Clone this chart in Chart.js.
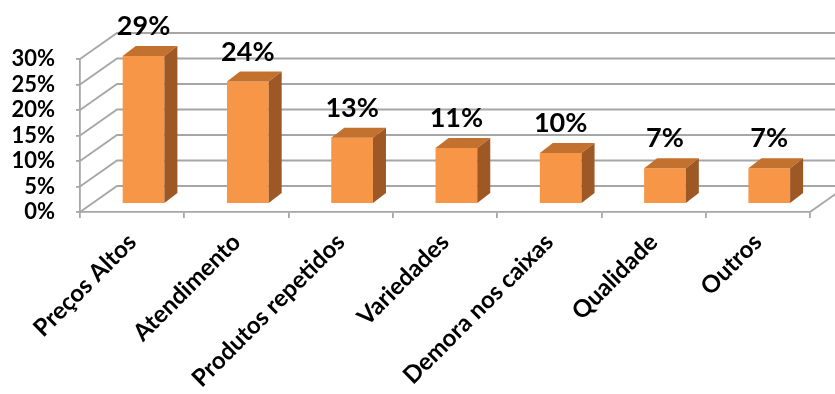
<!DOCTYPE html>
<html>
<head>
<meta charset="utf-8">
<script src="https://cdn.jsdelivr.net/npm/chart.js@4.4.0/dist/chart.umd.min.js"></script>
<style>
  html, body { margin: 0; padding: 0; background: #fff; }
  #wrap { width: 835px; height: 394px; }
</style>
</head>
<body>
<div id="wrap"><canvas id="grafico"></canvas></div>
<script>
// motivos de insatisfação dos clientes (%)
var categorias = ['Preços Altos', 'Atendimento', 'Produtos repetidos', 'Variedades', 'Demora nos caixas', 'Qualidade', 'Outros'];
var percentuais = [29, 24, 13, 11, 10, 7, 7];
var ticksY = [0, 5, 10, 15, 20, 25, 30];

// geometria do "3D" (em pixels)
var PROF_X = 37, PROF_Y = -26;     // profundidade da caixa (parede do fundo)
var BARRA_X = 11.4, BARRA_Y = -8;  // plano onde ficam as colunas
var LADO_X = 13, LADO_Y = -10;     // espessura das colunas
var corGrade = '#a6a6a6';

var caixa3d = {
  id: 'caixa3d',
  beforeDatasetsDraw(chart) {
    var ctx = chart.ctx, a = chart.chartArea, y = chart.scales.y;
    ctx.save();
    ctx.strokeStyle = corGrade;
    ctx.lineWidth = 1.8;
    ctx.beginPath();
    // parede lateral + linhas de grade no fundo
    ticksY.forEach(function (v) {
      var py = y.getPixelForValue(v);
      ctx.moveTo(a.left, py);
      ctx.lineTo(a.left + PROF_X, py + PROF_Y);
      ctx.lineTo(chart.width, py + PROF_Y);
    });
    // canto direito do piso
    ctx.moveTo(a.right, a.bottom);
    ctx.lineTo(a.right + PROF_X, a.bottom + PROF_Y);
    ctx.stroke();
    ctx.restore();
    // as colunas ficam um pouco atrás da frente
    ctx.save();
    ctx.translate(BARRA_X, BARRA_Y);
  },
  afterDatasetsDraw(chart) {
    var ctx = chart.ctx;
    var barras = chart.getDatasetMeta(0).data;
    barras.forEach(function (b) {
      var esq = b.x - b.width / 2, dir = b.x + b.width / 2;
      // topo
      ctx.fillStyle = '#c3712f';
      ctx.beginPath();
      ctx.moveTo(esq, b.y);
      ctx.lineTo(esq + LADO_X, b.y + LADO_Y);
      ctx.lineTo(dir + LADO_X, b.y + LADO_Y);
      ctx.lineTo(dir, b.y);
      ctx.closePath();
      ctx.fill();
      // lado direito
      ctx.fillStyle = '#9e5826';
      ctx.beginPath();
      ctx.moveTo(dir, b.y);
      ctx.lineTo(dir + LADO_X, b.y + LADO_Y);
      ctx.lineTo(dir + LADO_X, b.base + LADO_Y);
      ctx.lineTo(dir, b.base);
      ctx.closePath();
      ctx.fill();
    });
    ctx.restore();

    // rótulos de valor
    ctx.save();
    ctx.font = 'bold 27px Lato';
    ctx.fillStyle = '#000';
    ctx.textAlign = 'center';
    ctx.textBaseline = 'alphabetic';
    barras.forEach(function (b, i) {
      ctx.fillText(percentuais[i] + '%', b.x + BARRA_X, b.y + BARRA_Y + LADO_Y - 11);
    });
    ctx.restore();
  }
};

new Chart(document.getElementById('grafico'), {
  type: 'bar',
  data: {
    labels: categorias,
    datasets: [{
      data: percentuais,
      backgroundColor: '#f79646',
      borderWidth: 0,
      categoryPercentage: 1,
      barPercentage: 0.4,
      clip: false
    }]
  },
  options: {
    responsive: true,
    maintainAspectRatio: false,
    animation: false,
    layout: { padding: { top: 59, right: 25, left: 0, bottom: 0 }, autoPadding: false },
    plugins: { legend: { display: false }, tooltip: { enabled: false } },
    scales: {
      x: {
        afterFit: function (s) { s.height = 182; },
        grid: { drawOnChartArea: false, color: corGrade, lineWidth: 1.8, tickLength: 6 },
        border: { display: true, color: corGrade, width: 1.8 },
        ticks: {
          autoSkip: false,
          maxRotation: 45,
          minRotation: 45,
          padding: 10,
          color: '#000',
          font: { family: 'Lato', size: 24, weight: 'bold' }
        }
      },
      y: {
        min: ticksY[0],
        max: ticksY[ticksY.length - 1],
        afterFit: function (s) { s.width = 80; },
        grid: { drawOnChartArea: false, color: corGrade, lineWidth: 1.8, tickLength: 4 },
        border: { display: true, color: corGrade, width: 1.8 },
        ticks: {
          stepSize: ticksY[1] - ticksY[0],
          autoSkip: false,
          padding: 21,
          color: '#000',
          font: { family: 'Lato', size: 22, weight: 'bold' },
          callback: function (v) { return v + '%'; }
        }
      }
    }
  },
  plugins: [caixa3d]
});
</script>
</body>
</html>
